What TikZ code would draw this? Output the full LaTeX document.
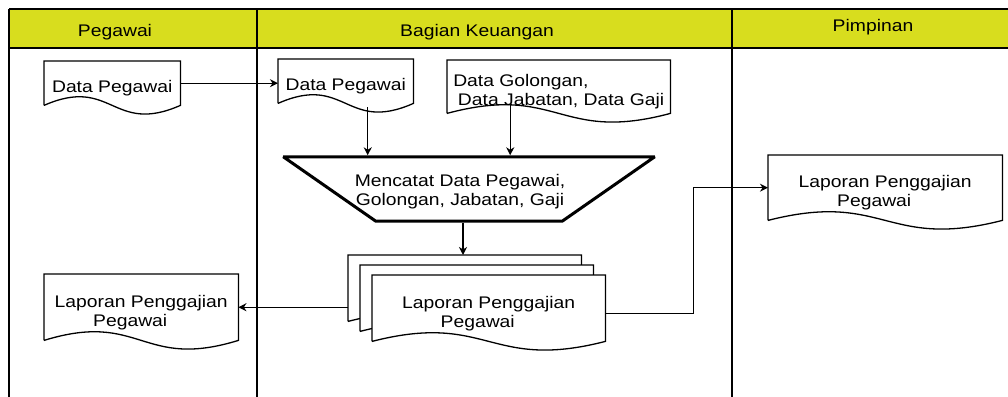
\documentclass[tikz,border=0pt]{standalone}
\usepackage{fontspec}
\setmainfont{Liberation Sans}[FakeStretch=1.15]
\usetikzlibrary{arrows.meta, calc}

\definecolor{kuningjudul}{RGB}{216,221,30}

\tikzset{
    garis/.style={line width=1.3pt, black},
    panah/.style={garis, -{Stealth[length=8pt, width=8pt, inset=2.5pt]}},
    kotakdok/.style={rectangle, inner sep=0pt, anchor=north west},
    teks/.style={inner sep=0pt, align=center, yshift=-5pt},
    kotakproses/.style={rectangle, inner sep=0pt, minimum width=371, minimum height=64},
    judul/.style={inner sep=0pt},
}

% dokumen: [ukuran]{nama}{kiri atas}{teks}
\newcommand{\dokumen}[4][]{%
    \node[kotakdok, #1] (#2) at (#3) {};
    \filldraw[garis, fill=white] (#2.south west) -- (#2.north west) -- (#2.north east) -- (#2.south east)
        .. controls ($(#2.south)+(0,30)$) and ($(#2.south)+(0,-30)$) .. (#2.south west);
    \node[kotakdok, teks, #1, anchor=center] at (#2.center) {#4};
}

\begin{document}
\begin{tikzpicture}[x=1pt, y=-1pt, font=\fontsize{16.8}{19}\selectfont]
    \useasboundingbox (0,0) rectangle (1008,396);

    % jalur
    \fill[kuningjudul] (9,9) rectangle (1020,48);
    \draw[garis] (9,9) -- (1020,9);
    \draw[garis] (9,48) -- (1020,48);
    \foreach \x in {9,257,732}
        \draw[garis] (\x,9) -- (\x,400);
    \node[judul] (jPegawai) at (115,32.5) {Pegawai};
    \node[judul] (jKeuangan) at (477,32.5) {Bagian Keuangan};
    \node[judul] (jPimpinan) at (873,27.5) {Pimpinan};

    % dokumen
    \dokumen[minimum width=136, minimum height=44]{dpPegawai}{44,61}{Data Pegawai}
    \dokumen[minimum width=135, minimum height=44]{dpKeuangan}{278,59}{Data Pegawai}
    \dokumen[minimum width=223, minimum height=53, align=left]{dataGol}{447,60}{Data Golongan,\\\hspace*{0.28em}Data Jabatan, Data Gaji}

    % proses manual
    \node[kotakproses] (proses) at (469,189) {};
    \draw[line width=3pt, line join=bevel] (proses.north west) -- (proses.north east)
        -- ($(proses.south east)+(-92.5,0)$) -- ($(proses.south west)+(92.5,0)$) -- cycle;
    \node[inner sep=0pt, align=center] (prosesTeks) at ([xshift=-9pt, yshift=-3pt]proses.center) {Mencatat Data Pegawai,\\Golongan, Jabatan, Gaji};

    \dokumen[minimum width=233, minimum height=66]{lapTumpuk1}{348,255}{}
    \dokumen[minimum width=233, minimum height=66]{lapTumpuk2}{360,265}{}
    \dokumen[minimum width=233, minimum height=66]{lapKeuangan}{372,275}{Laporan Penggajian\\Pegawai\hspace*{22pt}}
    \dokumen[minimum width=194, minimum height=66]{lapPegawai}{44,274}{Laporan Penggajian\\Pegawai\hspace*{22pt}}
    \dokumen[minimum width=234, minimum height=65]{lapPimpinan}{768,155}{Laporan Penggajian\\Pegawai\hspace*{22pt}}

    % alur
    \draw[panah] (dpPegawai.east) -- (dpPegawai.east -| dpKeuangan.west);
    \draw[panah] ($(dpKeuangan.south)+(22,4)$) coordinate (m1) -- ($(m1 |- proses.north)+(0,-1.5)$);
    \draw[panah] ($(dataGol.south)+(-48.5,-8)$) coordinate (m2) -- ($(m2 |- proses.north)+(0,-1.5)$);
    \draw[panah] ($(proses.south)+(-6,1.5)$) coordinate (m3) -- (m3 |- lapTumpuk1.north);
    \draw[panah] (lapTumpuk1.west |- lapPegawai.east) -- (lapPegawai.east);
    \draw[panah] ([yshift=-5pt]lapKeuangan.east) -- ++(88,0) |- (lapPimpinan.west);
\end{tikzpicture}
\end{document}
